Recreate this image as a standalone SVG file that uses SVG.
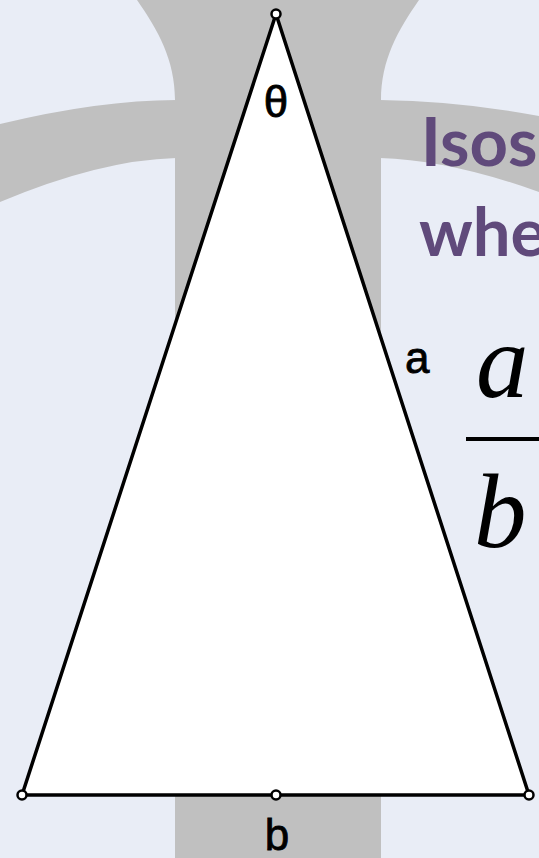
<svg xmlns="http://www.w3.org/2000/svg" width="539" height="858" viewBox="0 0 539 858">
  <style>
    .bg { fill: #e9edf6; }
    .band { fill: #c0c0c0; }
    .tri { fill: #ffffff; stroke: #000000; stroke-width: 3.5; stroke-linejoin: round; }
    .pt { fill: #ffffff; stroke: #000000; stroke-width: 2.5; }
    .lbl { font-family: "Liberation Sans", Arial, sans-serif; font-size: 44px; fill: #000000; stroke: #000000; stroke-width: 0.8; }
    .title { font-family: Lato, "Open Sans", sans-serif; font-weight: bold; font-size: 67px; fill: #604a7b; }
    .math { font-family: "Liberation Serif", "Times New Roman", serif; font-style: italic; font-size: 105px; fill: #000000; }
  </style>
  <rect class="bg" x="0" y="0" width="539" height="858"/>
  <g id="backdrop">
    <path class="band" d="M137,0 C158,30 175,60 175,100 L175,858 L381,858 L381,100 C381,60 398,30 419,0 Z"/>
    <path class="band" d="M176,100 Q100,100 0,124 L0,202 Q100,160 176,158 Z"/>
    <path class="band" d="M380,100 Q460,101 539,116 L539,192 Q450,160 380,158 Z"/>
  </g>
  <g id="title">
    <text class="title" x="421" y="166">Isos</text>
    <text class="title" x="419" y="256">whe</text>
  </g>
  <g id="triangle">
    <polygon class="tri" points="276,14 22,795 529,795"/>
  </g>
  <g id="points">
    <circle class="pt" cx="276" cy="14" r="4.5"/>
    <circle class="pt" cx="22" cy="795" r="4.5"/>
    <circle class="pt" cx="276" cy="795" r="4.5"/>
    <circle class="pt" cx="529" cy="795" r="4.5"/>
  </g>
  <g id="labels">
    <text class="lbl" x="276" y="117" text-anchor="middle">θ</text>
    <text class="lbl" x="405" y="373">a</text>
    <text class="lbl" x="277" y="850" text-anchor="middle">b</text>
  </g>
  <g id="fraction">
    <text class="math" x="476" y="397">a</text>
    <rect x="466" y="437" width="80" height="4" fill="#000000"/>
    <text class="math" x="474" y="547">b</text>
  </g>
</svg>
